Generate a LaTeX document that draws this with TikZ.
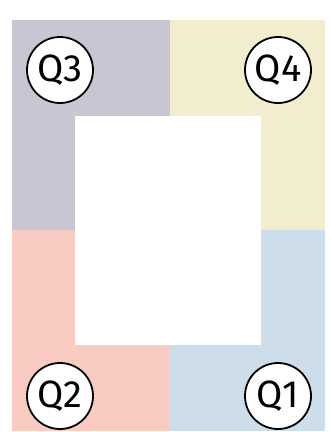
\documentclass[tikz,border=0pt]{standalone}
\usepackage{fontspec}
\setmainfont{Fira Sans}
\definecolor{qthree}{HTML}{C9C6D3}
\definecolor{qfour}{HTML}{F3EDD0}
\definecolor{qtwo}{HTML}{FACBC3}
\definecolor{qone}{HTML}{CDDDEA}
\begin{document}
\begin{tikzpicture}[x=1pt,y=-1pt,
  qlabel/.style={circle,draw=black,line width=1.8pt,fill=white,minimum size=66pt,inner sep=0pt,font=\fontsize{38}{40}\selectfont}]
\useasboundingbox (0,0) rectangle (331,432);
\fill[white] (0,0) rectangle (331,432);
\fill[qthree] (12,20) rectangle (170,230);
\fill[qfour] (170,20) rectangle (325,230);
\fill[qtwo] (12,230) rectangle (170,431);
\fill[qone] (170,230) rectangle (325,431);
\fill[white] (75,116) rectangle (261,345);
\node[qlabel] (q3) at (60,70) {Q3};
\node[qlabel] (q4) at (278,70) {Q4};
\node[qlabel] (q2) at (60,396) {Q2};
\node[qlabel] (q1) at (278,396) {Q1};
\end{tikzpicture}
\end{document}
